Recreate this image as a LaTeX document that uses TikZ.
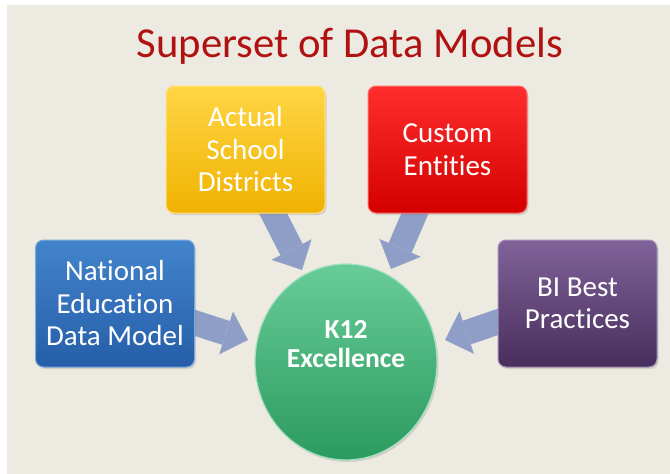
\documentclass[tikz,border=0pt]{standalone}
\usepackage{fontspec}
\setmainfont{Carlito}[Ligatures=NoCommon]
\usetikzlibrary{arrows.meta,calc,shapes.geometric,shadows}
\pgfdeclarelayer{back}\pgfdeclarelayer{mid}\pgfsetlayers{back,mid,main}
\definecolor{bgc}{RGB}{237,234,226}
\definecolor{titlec}{RGB}{176,18,18}
\definecolor{arrowc}{RGB}{142,158,198}
\definecolor{yelT}{RGB}{255,214,70}\definecolor{yelB}{RGB}{240,178,0}
\definecolor{redT}{RGB}{255,45,45}\definecolor{redB}{RGB}{212,0,0}
\definecolor{bluT}{RGB}{66,132,204}\definecolor{bluB}{RGB}{38,94,168}
\definecolor{purT}{RGB}{128,98,152}\definecolor{purB}{RGB}{72,46,92}
\definecolor{grnT}{RGB}{104,204,152}\definecolor{grnB}{RGB}{44,154,94}
\begin{document}
\begin{tikzpicture}[x=1pt,y=-1pt,
  box/.style={rectangle, rounded corners=8pt, minimum width=159pt, minimum height=127pt,
    align=center, text=white, font=\fontsize{29}{32.5}\selectfont, line width=1pt,
    drop shadow={shadow xshift=1.5pt,shadow yshift=-2pt,opacity=0.25}},
  blockarrow/.style={draw=arrowc, line width=25pt,
    -{Triangle[width=45pt,length=23pt,line width=0pt]}}]
\begin{pgfonlayer}{back}
  \fill[white] (0,0) rectangle (670,474);
  \fill[bgc] (7,5) rectangle (670,474);
\end{pgfonlayer}
\node (title) at (350,46) {\fontsize{42.7}{50}\selectfont\color{titlec}Superset of Data Models};
\node[box, top color=yelT, bottom color=yelB, draw=yelT!70!white] (ya) at (245.5,149.5) {Actual\\School\\Districts};
\node[box, top color=redT, bottom color=redB, draw=redT!70!white] (re) at (447.5,149.5) {Custom\\Entities};
\node[box, top color=bluT, bottom color=bluB, draw=bluT!70!white] (bl) at (115,303.5) {National\\Education\\Data Model};
\node[box, top color=purT, bottom color=purB, draw=purT!70!white] (pu) at (577.5,303.5) {BI Best\\Practices};
\node[ellipse, minimum width=182pt, minimum height=196pt, inner sep=0pt,
  top color=grnT, bottom color=grnB, draw=grnT!60!white, line width=1.2pt,
  drop shadow={shadow xshift=1.5pt,shadow yshift=-2pt,opacity=0.25}] (c) at (346,362) {};
\node[align=center, text=white, font=\bfseries\fontsize{27.5}{29}\selectfont] (ct) at (346,344) {K12\\Excellence};
\begin{pgfonlayer}{mid}
  \draw[blockarrow] ($(ya.south)+(23.5,-8)$) -- ($(c)+(-44,-92)$);
  \draw[blockarrow] ($(re.south)+(-29,-8.3)$) -- ($(c)+(45,-93)$);
  \draw[blockarrow] ($(bl.east)+(-9,16.5)$) -- ($(c)+(-98,-22)$);
  \draw[blockarrow] ($(pu.west)+(9.5,15.3)$) -- ($(c)+(99,-22)$);
\end{pgfonlayer}
\useasboundingbox (0,0) rectangle (670,474);
\end{tikzpicture}
\end{document}
